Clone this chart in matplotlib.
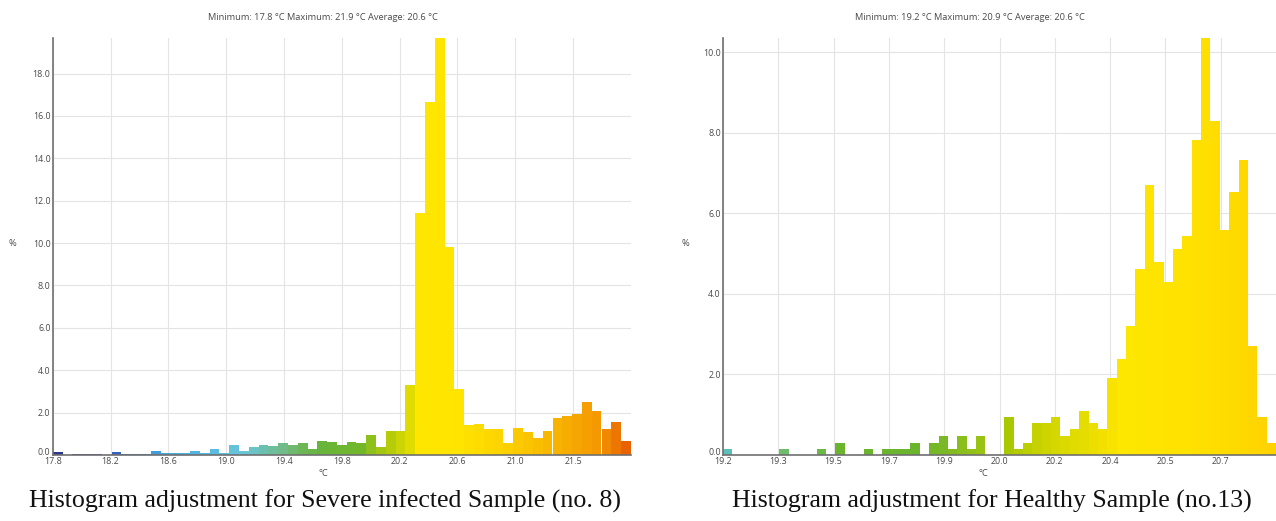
import numpy as np
import matplotlib
matplotlib.use("Agg")
import matplotlib.pyplot as plt
from matplotlib.colors import to_rgb
import matplotlib.transforms as mtransforms

# ---------------- data ----------------
left_values = [0.13, 0, 0.06, 0.06, 0.06, 0, 0.14, 0.06, 0.06, 0.06,
               0.20, 0.11, 0.11, 0.11, 0.20, 0.11, 0.27, 0.11, 0.49, 0.19,
               0.40, 0.48, 0.41, 0.56, 0.49, 0.56, 0.27, 0.68, 0.62, 0.48,
               0.60, 0.56, 0.94, 0.40, 1.14, 1.14, 3.30, 11.43, 16.67, 19.70,
               9.81, 3.10, 1.41, 1.48, 1.21, 1.21, 0.55, 1.26, 1.07, 0.79,
               1.15, 1.73, 1.84, 1.95, 2.48, 2.07, 1.21, 1.54, 0.66]
left_ticklabels = ["17.8", "18.2", "18.6", "19.0", "19.4", "19.8", "20.2", "20.6", "21.0", "21.5"]
left_yticks = [0, 2, 4, 6, 8, 10, 12, 14, 16, 18]
left_title = "Minimum: 17.8 °C Maximum: 21.9 °C Average: 20.6 °C"
left_caption = "Histogram adjustment for Severe infected Sample (no. 8)"

right_values = [0.14, 0, 0, 0, 0, 0, 0.14, 0, 0, 0,
                0.14, 0, 0.31, 0, 0, 0.14, 0, 0.14, 0.14, 0.14,
                0.31, 0, 0.31, 0.47, 0.14, 0.47, 0.14, 0.47, 0, 0,
                0.95, 0.15, 0.31, 0.79, 0.79, 0.95, 0.47, 0.64, 1.10, 0.79,
                0.64, 1.92, 2.38, 3.20, 4.62, 6.70, 4.78, 4.30, 5.10, 5.43,
                7.81, 10.36, 8.29, 5.58, 6.53, 7.33, 2.70, 0.95, 0.30]
right_ticklabels = ["19.2", "19.3", "19.5", "19.7", "19.9", "20.0", "20.2", "20.4", "20.5", "20.7"]
right_yticks = [0, 2, 4, 6, 8, 10]
right_title = "Minimum: 19.2 °C Maximum: 20.9 °C Average: 20.6 °C"
right_caption = "Histogram adjustment for Healthy Sample (no.13)"

# ---------------- styling ----------------
left_stops = [(0, "#2d378c"), (4, "#33409c"), (6, "#3562c0"), (9, "#3d8fd4"),
              (11, "#47a9de"), (17, "#5cc0e0"), (19, "#6ac6d6"), (21, "#6cc0b0"),
              (23, "#70bb88"), (25, "#6cb655"), (27, "#69b43a"), (31, "#72b62a"),
              (32, "#8dc01a"), (34, "#b6cc08"), (36, "#e0dc00"), (37, "#ffe600"),
              (41, "#ffe400"), (45, "#fcd400"), (48, "#fac400"), (52, "#f7ac00"),
              (55, "#f49a00"), (57, "#ec7600"), (58, "#e86200")]
right_stops = [(0, "#5dc0b8"), (6, "#6dbd6a"), (10, "#6cb845"), (12, "#6bb52e"),
               (20, "#6ab52c"), (23, "#7ab925"), (27, "#98c214"), (30, "#a9c800"),
               (33, "#c6d200"), (35, "#d4d700"), (38, "#e6dd00"), (40, "#f2e100"),
               (42, "#fde600"), (48, "#ffe300"), (53, "#ffdc00"), (58, "#ffd200")]


def colors_from_stops(n, stops):
    pos = np.array([s[0] for s in stops], dtype=float)
    rgb = np.array([to_rgb(s[1]) for s in stops])
    idx = np.arange(n)
    return [tuple(np.interp(i, pos, rgb[:, c]) for c in range(3)) for i in idx]


FIG_W, FIG_H = 1276, 521
fig = plt.figure(figsize=(FIG_W / 100, FIG_H / 100), dpi=100)

tick_font = dict(family="Open Sans", size=6.4, color="#4a4a4a")
axis_color = "#707070"
grid_color = "#e4e4e4"


def px_axes(x0, x1, ytop, ybot):
    return fig.add_axes([x0 / FIG_W, 1 - ybot / FIG_H, (x1 - x0) / FIG_W, (ybot - ytop) / FIG_H])


def draw_panel(ax, values, ticklabels, yticks, stops):
    n = len(values)
    x = np.arange(n)
    ax.bar(x, values, width=1.0, align="edge", color=colors_from_stops(n, stops),
           linewidth=0, zorder=2)
    ax.set_xlim(0, n)
    ax.set_ylim(0, max(values))
    step = n / 10.0
    ax.set_xticks([k * step for k in range(len(ticklabels))])
    ax.set_xticklabels(ticklabels, **tick_font)
    ax.set_yticks(yticks)
    ax.set_yticklabels([f"{v:.1f}" for v in yticks], **tick_font)
    ax.tick_params(axis="y", length=0, pad=1.5)
    ax.tick_params(axis="x", length=0, pad=1.6)
    # lift the "0.0" label slightly, as in the reference
    lab0 = ax.get_yticklabels()[0]
    lab0.set_transform(lab0.get_transform() +
                       mtransforms.ScaledTranslation(0, 2.5 / 72, fig.dpi_scale_trans))
    ax.grid(True, color=grid_color, linewidth=0.8, zorder=0)
    ax.set_axisbelow(True)
    for s in ["top", "right"]:
        ax.spines[s].set_visible(False)
    for s in ["left", "bottom"]:
        ax.spines[s].set_color(axis_color)
        ax.spines[s].set_linewidth(1.2)
        ax.spines[s].set_zorder(3)


axL = px_axes(52.7, 630.9, 37.5, 455)
draw_panel(axL, left_values, left_ticklabels, left_yticks, left_stops)
axR = px_axes(723, 1276, 37.5, 455)
draw_panel(axR, right_values, right_ticklabels, right_yticks, right_stops)

lab_font = dict(family="Open Sans", size=6.7, color="#4a4a4a")
# titles
fig.text(323 / FIG_W, 1 - 17 / FIG_H, left_title, ha="center", va="center", **lab_font)
fig.text(970 / FIG_W, 1 - 17 / FIG_H, right_title, ha="center", va="center", **lab_font)
# axis labels
fig.text(12 / FIG_W, 1 - 243 / FIG_H, "%", ha="center", va="center", **lab_font)
fig.text(323 / FIG_W, 1 - 474 / FIG_H, "°C", ha="center", va="center", **lab_font)
fig.text(685 / FIG_W, 1 - 243 / FIG_H, "%", ha="center", va="center", **lab_font)
fig.text(983 / FIG_W, 1 - 474 / FIG_H, "°C", ha="center", va="center", **lab_font)

# captions
cap_font = dict(family="Liberation Serif", size=18.6, color="#111111")
fig.text(325 / FIG_W, 1 - 501 / FIG_H, left_caption, ha="center", va="center", **cap_font)
fig.text(992 / FIG_W, 1 - 501 / FIG_H, right_caption, ha="center", va="center", **cap_font)

fig.savefig("out.png", dpi=100)
